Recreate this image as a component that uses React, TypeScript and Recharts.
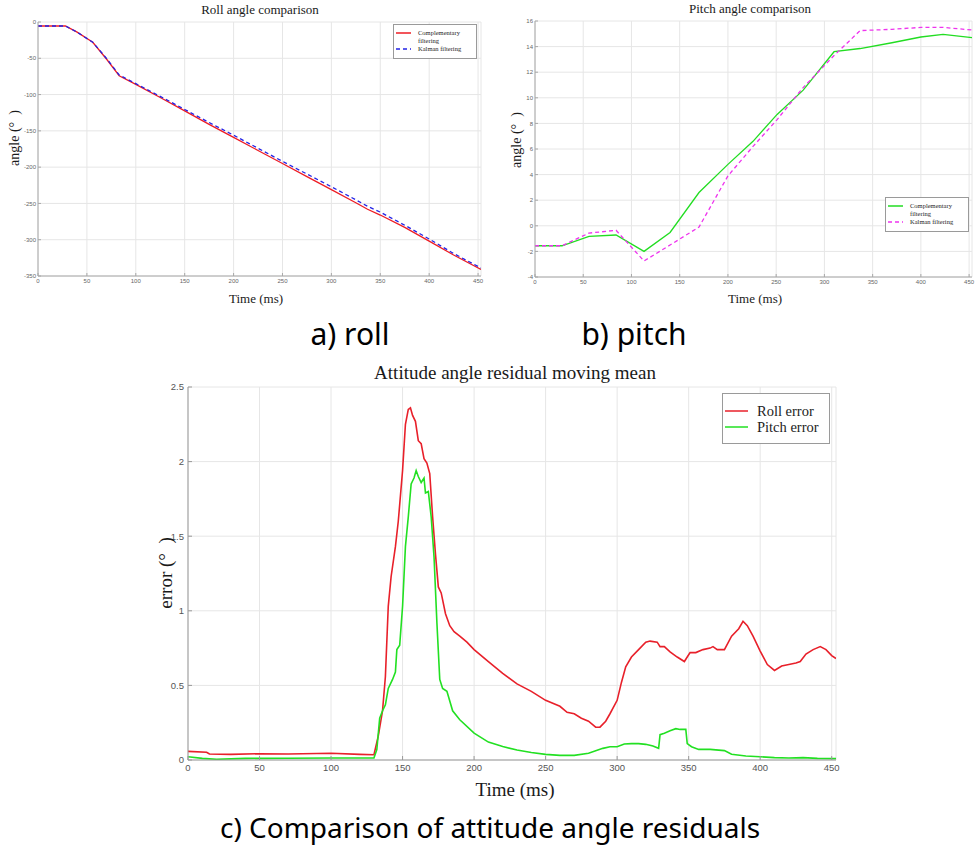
import { LineChart, Line, XAxis, YAxis, CartesianGrid, Legend } from 'recharts';

// a) roll angle, time in ms
const ROLL_T = [0, 28, 40, 56, 70, 83, 100, 125, 150, 175, 200, 225, 250, 275, 300, 325, 337, 350, 375, 400, 425, 453];
const ROLL_COMPLEMENTARY = [-5.5, -5.5, -14, -28, -51, -74, -86, -104, -122.5, -141, -159, -177, -195, -213, -231, -249, -258, -266, -283, -302, -321, -341];
const ROLL_KALMAN = [-5.5, -5.5, -14, -28, -50, -73, -85, -102.5, -120.5, -138.5, -156, -174, -192, -209.5, -227, -245, -254, -262, -280, -299, -319, -339];

// b) pitch angle
const PITCH_T = [0, 28, 56, 84, 113, 140, 170, 200, 226, 251, 278, 310, 337, 370, 400, 423, 453];
const PITCH_COMPLEMENTARY = [-1.56, -1.56, -0.83, -0.72, -2.0, -0.52, 2.6, 4.8, 6.6, 8.7, 10.6, 13.6, 13.85, 14.3, 14.75, 14.95, 14.7];
const PITCH_KALMAN = [-1.56, -1.56, -0.57, -0.35, -2.75, -1.5, -0.1, 3.9, 6.2, 8.3, 10.8, 13.3, 15.25, 15.35, 15.5, 15.5, 15.3];

// c) residual moving mean
const ROLL_ERR_T = [0, 13, 15, 30, 50, 70, 100, 120, 130, 133, 136, 138, 140, 142, 145, 147, 150, 152, 154, 155.5, 157, 159, 161, 163, 165, 167, 169, 171, 173, 175, 177, 180, 183, 186, 190, 195, 200, 210, 220, 230, 240, 250, 260, 265, 270, 275, 280, 285, 288, 292, 295, 300, 303, 306, 310, 315, 320, 323, 328, 330, 333, 337, 342, 347, 349, 351, 355, 360, 365, 367, 370, 375, 380, 385, 388, 391, 395, 400, 405, 410, 415, 420, 425, 428, 432, 437, 442, 446, 450, 453];
const ROLL_ERR = [0.058, 0.052, 0.04, 0.038, 0.042, 0.04, 0.045, 0.038, 0.035, 0.16, 0.33, 0.56, 1.03, 1.23, 1.43, 1.6, 1.94, 2.25, 2.35, 2.36, 2.31, 2.27, 2.14, 2.12, 2.02, 1.99, 1.92, 1.63, 1.38, 1.16, 1.12, 0.98, 0.9, 0.86, 0.83, 0.79, 0.74, 0.66, 0.58, 0.51, 0.46, 0.4, 0.36, 0.32, 0.31, 0.28, 0.26, 0.22, 0.22, 0.26, 0.31, 0.4, 0.52, 0.625, 0.69, 0.74, 0.79, 0.797, 0.79, 0.76, 0.76, 0.725, 0.69, 0.66, 0.69, 0.72, 0.72, 0.74, 0.75, 0.76, 0.74, 0.74, 0.83, 0.88, 0.93, 0.9, 0.83, 0.73, 0.64, 0.6, 0.63, 0.64, 0.65, 0.66, 0.71, 0.74, 0.76, 0.74, 0.7, 0.68];
const PITCH_ERR_T = [0, 10, 20, 40, 70, 100, 130, 132, 134, 136, 138, 140, 143, 145, 146, 148, 150, 152, 154, 156, 158, 159.5, 161, 163, 165, 166, 168, 170, 172, 174, 176, 178, 181, 185, 190, 200, 210, 220, 230, 240, 250, 260, 270, 280, 290, 295, 300, 305, 310, 315, 320, 325, 329, 330, 333, 337, 341, 344, 348, 349, 352, 357, 365, 375, 380, 390, 400, 410, 420, 430, 440, 453];
const PITCH_ERR = [0.022, 0.011, 0.005, 0.011, 0.012, 0.013, 0.013, 0.07, 0.28, 0.33, 0.37, 0.48, 0.54, 0.59, 0.74, 0.77, 1.03, 1.43, 1.63, 1.85, 1.89, 1.94, 1.9, 1.86, 1.89, 1.79, 1.8, 1.63, 1.36, 0.92, 0.54, 0.48, 0.46, 0.33, 0.27, 0.18, 0.12, 0.09, 0.067, 0.05, 0.038, 0.031, 0.031, 0.045, 0.078, 0.089, 0.089, 0.107, 0.11, 0.11, 0.105, 0.094, 0.078, 0.17, 0.18, 0.196, 0.21, 0.205, 0.205, 0.11, 0.089, 0.071, 0.071, 0.063, 0.038, 0.027, 0.022, 0.016, 0.013, 0.016, 0.011, 0.009];

const TIME_DOMAIN = [0, 453];
const TIME_TICKS = [0, 50, 100, 150, 200, 250, 300, 350, 400, 450];
const ROLL_TICKS = [0, -50, -100, -150, -200, -250, -300, -350];
const PITCH_TICKS = [-4, -2, 0, 2, 4, 6, 8, 10, 12, 14, 16];
const ERROR_TICKS = [0, 0.5, 1, 1.5, 2, 2.5];

const FILTER_NAMES = ['Complementary filtering', 'Kalman filtering'];
const ERROR_NAMES = ['Roll error', 'Pitch error'];

const zip = (t: number[], v: number[]) => t.map((x, i) => ({ t: x, v: v[i] }));

const SERIF = '"Liberation Serif", "Times New Roman", serif';
const SANS = '"Liberation Sans", Arial, sans-serif';
const CAPTION = '"Noto Sans", sans-serif';
const GRID = '#e6e6e6';
const FRAME = '#a8a8a8';

function Txt({ x, y, size, rotate, family = SERIF, color = '#1a1a1a', children }: any) {
  return (
    <div
      style={{
        position: 'absolute',
        left: x,
        top: y,
        transform: `translate(-50%, -50%)${rotate ? ' rotate(-90deg)' : ''}`,
        fontSize: size,
        fontFamily: family,
        color,
        whiteSpace: 'pre',
        lineHeight: 1,
      }}
    >
      {children}
    </div>
  );
}

// boxed legend in the MATLAB style, kept in series order
function LegendBox({ payload, order, fontSize, lineW, gap, textW, pad, rowH }: any) {
  const items = [...(payload || [])].sort((a: any, b: any) => order.indexOf(a.value) - order.indexOf(b.value));
  return (
    <div style={{ border: '1px solid #9a9a9a', background: '#fff', padding: pad, fontFamily: SERIF, fontSize, color: '#222', lineHeight: `${rowH}px` }}>
      {items.map((p: any) => (
        <div key={p.value} style={{ display: 'flex', alignItems: 'flex-start' }}>
          <svg width={lineW} height={rowH} style={{ flex: 'none', marginRight: gap }}>
            <line x1={0} x2={lineW} y1={rowH / 2} y2={rowH / 2} stroke={p.color} strokeWidth={1.5} strokeDasharray={p.payload?.strokeDasharray} />
          </svg>
          <span style={{ width: textW }}>{p.value}</span>
        </div>
      ))}
    </div>
  );
}

const smallTick = { fontSize: 6, fill: '#666', fontFamily: SANS };
const bigTick = { fontSize: 9.5, fill: '#555', fontFamily: SANS };

export default function App() {
  const rollComp = zip(ROLL_T, ROLL_COMPLEMENTARY);
  const rollKal = zip(ROLL_T, ROLL_KALMAN);
  const pitchComp = zip(PITCH_T, PITCH_COMPLEMENTARY);
  const pitchKal = zip(PITCH_T, PITCH_KALMAN);
  const rollErr = zip(ROLL_ERR_T, ROLL_ERR);
  const pitchErr = zip(PITCH_ERR_T, PITCH_ERR);

  return (
    <div style={{ position: 'absolute', left: 0, top: 0, width: 977, height: 847, overflow: 'hidden', background: '#fff' }}>
      {/* a) roll */}
      <div style={{ position: 'absolute', left: 0, top: 0 }}>
        <LineChart width={490} height={300} margin={{ top: 22, right: 9, left: 0, bottom: 0 }}>
          <CartesianGrid stroke={GRID} />
          <XAxis dataKey="t" type="number" domain={TIME_DOMAIN} ticks={TIME_TICKS} allowDataOverflow height={24}
            tick={smallTick} stroke={FRAME} tickSize={-3} tickMargin={6} />
          <XAxis xAxisId="top" orientation="top" dataKey="t" type="number" domain={TIME_DOMAIN} ticks={TIME_TICKS} allowDataOverflow
            height={0} tick={false} stroke={FRAME} tickSize={-3} />
          <YAxis dataKey="v" type="number" domain={[-350, 0]} ticks={ROLL_TICKS} allowDataOverflow width={38}
            tick={smallTick} stroke={FRAME} tickSize={-3} tickMargin={5} />
          <YAxis yAxisId="right" orientation="right" type="number" domain={[-350, 0]} ticks={ROLL_TICKS} allowDataOverflow
            width={0} tick={false} stroke={FRAME} tickSize={-3} />
          <Legend layout="vertical" align="center" verticalAlign="middle" wrapperStyle={{ left: 393, top: 24, width: 84 }}
            content={(props: any) => <LegendBox {...props} order={FILTER_NAMES} fontSize={6.5} lineW={15} gap={7} textW={52} pad="4px 2px 5px 2px" rowH={8} />} />
          <Line data={rollComp} dataKey="v" name={FILTER_NAMES[0]} stroke="#ee1c24" strokeWidth={1.3} dot={false} isAnimationActive={false} />
          <Line data={rollKal} dataKey="v" name={FILTER_NAMES[1]} stroke="#2323e6" strokeWidth={1.3} strokeDasharray="4 3" dot={false} isAnimationActive={false} />
        </LineChart>
      </div>

      {/* b) pitch */}
      <div style={{ position: 'absolute', left: 490, top: 0 }}>
        <LineChart width={500} height={301} margin={{ top: 21, right: 18, left: 0, bottom: 0 }}>
          <CartesianGrid stroke={GRID} />
          <XAxis dataKey="t" type="number" domain={TIME_DOMAIN} ticks={TIME_TICKS} allowDataOverflow height={24}
            tick={smallTick} stroke={FRAME} tickSize={-3} tickMargin={6} />
          <XAxis xAxisId="top" orientation="top" dataKey="t" type="number" domain={TIME_DOMAIN} ticks={TIME_TICKS} allowDataOverflow
            height={0} tick={false} stroke={FRAME} tickSize={-3} />
          <YAxis dataKey="v" type="number" domain={[-4, 16]} ticks={PITCH_TICKS} allowDataOverflow width={45}
            tick={smallTick} stroke={FRAME} tickSize={-3} tickMargin={5} />
          <YAxis yAxisId="right" orientation="right" type="number" domain={[-4, 16]} ticks={PITCH_TICKS} allowDataOverflow
            width={0} tick={false} stroke={FRAME} tickSize={-3} />
          <Legend layout="vertical" align="center" verticalAlign="middle" wrapperStyle={{ left: 395, top: 197, width: 84 }}
            content={(props: any) => <LegendBox {...props} order={FILTER_NAMES} fontSize={6.5} lineW={15} gap={7} textW={52} pad="4px 2px 5px 2px" rowH={8} />} />
          <Line data={pitchComp} dataKey="v" name={FILTER_NAMES[0]} stroke="#22dd22" strokeWidth={1.3} dot={false} isAnimationActive={false} />
          <Line data={pitchKal} dataKey="v" name={FILTER_NAMES[1]} stroke="#ee33ee" strokeWidth={1.3} strokeDasharray="4 3" dot={false} isAnimationActive={false} />
        </LineChart>
      </div>

      {/* c) residuals */}
      <div style={{ position: 'absolute', left: 0, top: 360 }}>
        <LineChart width={850} height={420} margin={{ top: 27, right: 14, left: 160, bottom: 0 }}>
          <CartesianGrid stroke={GRID} />
          <XAxis dataKey="t" type="number" domain={TIME_DOMAIN} ticks={TIME_TICKS} allowDataOverflow height={20}
            tick={bigTick} stroke="#999" tickSize={-4} tickMargin={8} />
          <XAxis xAxisId="top" orientation="top" dataKey="t" type="number" domain={TIME_DOMAIN} ticks={TIME_TICKS} allowDataOverflow
            height={0} tick={false} stroke="#999" tickSize={-4} />
          <YAxis dataKey="v" type="number" domain={[0, 2.5]} ticks={ERROR_TICKS} allowDataOverflow width={28}
            tick={bigTick} stroke="#999" tickSize={-4} tickMargin={8} />
          <YAxis yAxisId="right" orientation="right" type="number" domain={[0, 2.5]} ticks={ERROR_TICKS} allowDataOverflow
            width={0} tick={false} stroke="#999" tickSize={-4} />
          <Legend layout="vertical" align="center" verticalAlign="middle" wrapperStyle={{ left: 722, top: 33, width: 108 }}
            content={(props: any) => <LegendBox {...props} order={ERROR_NAMES} fontSize={14.5} lineW={23} gap={9} textW={70} pad="9px 2px 8px 2px" rowH={16} />} />
          <Line data={rollErr} dataKey="v" name={ERROR_NAMES[0]} stroke="#e8202a" strokeWidth={1.6} dot={false} isAnimationActive={false} />
          <Line data={pitchErr} dataKey="v" name={ERROR_NAMES[1]} stroke="#22e022" strokeWidth={1.6} dot={false} isAnimationActive={false} />
        </LineChart>
      </div>

      <Txt x={260} y={9} size={13}>Roll angle comparison</Txt>
      <Txt x={15} y={138} size={14} rotate>{'angle (°  )'}</Txt>
      <Txt x={256} y={298} size={13}>Time (ms)</Txt>

      <Txt x={750} y={8} size={13}>Pitch angle comparison</Txt>
      <Txt x={517} y={140} size={14} rotate>{'angle (°  )'}</Txt>
      <Txt x={755} y={298} size={13}>Time (ms)</Txt>

      <Txt x={515} y={372} size={19}>Attitude angle residual moving mean</Txt>
      <Txt x={165} y={573} size={19} rotate>{'error (°  )'}</Txt>
      <Txt x={515} y={789} size={19}>Time (ms)</Txt>

      <Txt x={350} y={334} size={30} family={CAPTION} color="#000">a) roll</Txt>
      <Txt x={634} y={334} size={30} family={CAPTION} color="#000">b) pitch</Txt>
      <Txt x={490} y={827} size={28} family={CAPTION} color="#000">c) Comparison of attitude angle residuals</Txt>
    </div>
  );
}
